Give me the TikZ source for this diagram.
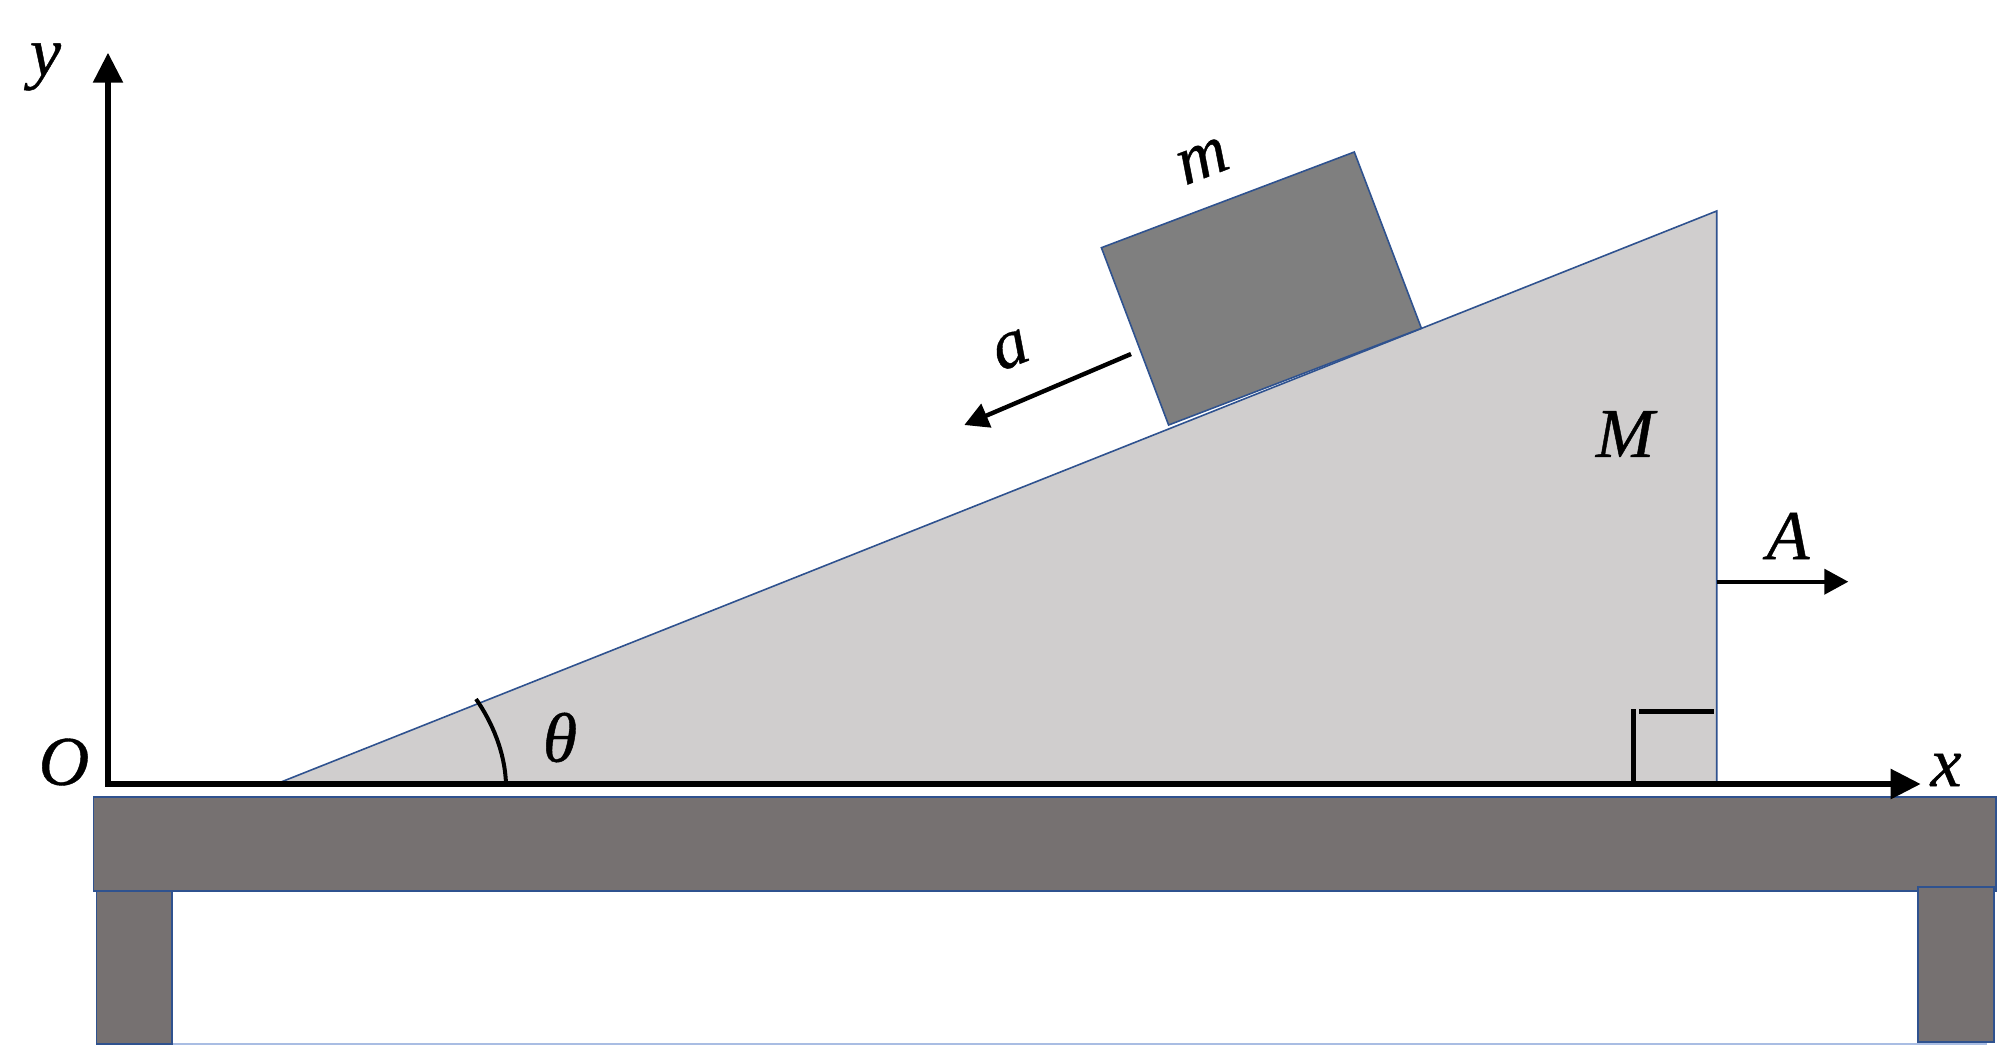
\documentclass[tikz,border=0pt]{standalone}
\usepackage{fontspec}
\setmainfont{Liberation Serif}[ItalicFeatures={FakeBold=0.6}]
\usetikzlibrary{arrows.meta}
\definecolor{edgeblue}{HTML}{2F528F}
\definecolor{paleblue}{HTML}{A9BDE3}
\definecolor{wedgegray}{HTML}{D0CECE}
\definecolor{tablegray}{HTML}{767171}
\definecolor{blockgray}{HTML}{7F7F7F}
\tikzset{
  solid shape/.style={draw=edgeblue,line width=1.6pt,line join=miter},
  axisline/.style={draw=black,line width=5.6pt,-{Triangle[length=30pt,width=29pt]}},
  accline/.style={draw=black,line width=4pt,-{Triangle[length=24pt,width=25pt]}},
  markline/.style={draw=black,line width=4.6pt},
  lab/.style={inner sep=0pt,outer sep=0pt,font=\fontsize{70}{80}\selectfont\itshape}
}
\begin{document}
\begin{tikzpicture}[x=1pt,y=-1pt]
\useasboundingbox (0,0) rectangle (1997,1045);
% table
\draw[paleblue,line width=1.4pt] (172,1044) -- (1987,1044);
\fill[tablegray,solid shape] (96.4,890) rectangle (172,1044);
\fill[tablegray,solid shape] (93.4,797) rectangle (1996,890.7);
\fill[tablegray,solid shape] (1918,887) rectangle (1994,1041.7);
% wedge
\coordinate (wl) at (281,782);
\coordinate (wt) at (1716.7,211);
\coordinate (wr) at (1716.7,782);
\fill[wedgegray] (wl) -- (wt) -- (wr) -- cycle;
\draw[solid shape] (wl) -- (wt) -- (wr);
% block
\coordinate (b1) at (1101.4,247.7);
\coordinate (b2) at (1354.3,152);
\coordinate (b3) at (1421.4,328.3);
\coordinate (b4) at (1168.6,425);
\fill[blockgray,solid shape] (b1) -- (b2) -- (b3) -- (b4) -- cycle;
% right angle
\coordinate (v1) at (1633.3,784);
\coordinate (v2) at (1633.3,709);
\coordinate (h1) at (1639.3,711.7);
\coordinate (h2) at (1714,711.7);
\draw[markline] (v1) -- (v2);
\draw[markline] (h1) -- (h2);
% angle arc
\coordinate (arcA) at (476,699);
\coordinate (arcB) at (506,784);
\draw[markline,line width=4pt] (arcA) .. controls (492,722) and (505,752) .. (arcB);
% axes
\coordinate (xo) at (105.3,784);
\coordinate (xe) at (1920.7,784);
\coordinate (yo) at (108,786);
\coordinate (ye) at (108,52.7);
\draw[axisline] (xo) -- (xe);
\draw[axisline] (yo) -- (ye);
% accelerations
\coordinate (a1) at (1131,354);
\coordinate (a2) at (964.3,425);
\draw[accline,line width=4.4pt] (a1) -- (a2);
\coordinate (A1) at (1716.7,581.7);
\coordinate (A2) at (1848.3,581.7);
\draw[accline] (A1) -- (A2);
% labels
\node[lab] (ly) at (45.5,67) {y};
\node[lab] (lO) at (64,762) {O};
\node[lab] (lth) at (560,737.5) {θ};
\node[lab] (lx) at (1946,770) {x};
\node[lab] (lM) at (1625,434) {M};
\node[lab] (lA) at (1788,536) {A};
\node[lab,rotate=21] (lm) at (1203,161) {m};
\node[lab,rotate=21] (la) at (1011,350) {a};
\end{tikzpicture}
\end{document}
